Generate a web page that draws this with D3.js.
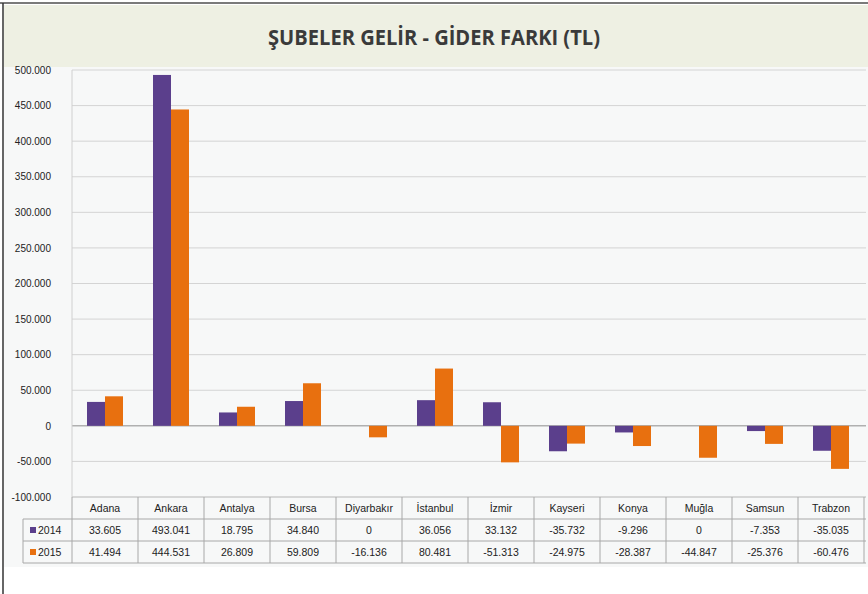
<!DOCTYPE html>
<html><head><meta charset="utf-8">
<script src="https://cdn.jsdelivr.net/npm/d3@7"></script>
<style>
html,body{margin:0;padding:0;background:#fff;}
svg{display:block;}
</style></head>
<body>
<svg id="c" width="868" height="594"></svg>
<script>
const categories = ["Adana","Ankara","Antalya","Bursa","Diyarbakır","İstanbul","İzmir","Kayseri","Konya","Muğla","Samsun","Trabzon"];
const values2014 = [33605, 493041, 18795, 34840, 0, 36056, 33132, -35732, -9296, 0, -7353, -35035];
const values2015 = [41494, 444531, 26809, 59809, -16136, 80481, -51313, -24975, -28387, -44847, -25376, -60476];
const seriesNames = ["2014","2015"];
const yTicks = [500000,450000,400000,350000,300000,250000,200000,150000,100000,50000,0,-50000,-100000];
const titleText = "ŞUBELER GELİR - GİDER FARKI (TL)";

(function(){
const colors = ["#5b3f8c","#e8700f"];
const fmt = v => v === 0 ? "0" : d3.format(",")(v).replace(/,/g, ".").replace("\u2212","-");

const svg = d3.select("#c");
const W = 868, H = 594;
const pLeft = 72, pRight = 864, pTop = 70, pBottom = 497;

// backgrounds
svg.append("rect").attr("x",0).attr("y",0).attr("width",W).attr("height",H).attr("fill","#ffffff");
svg.append("rect").attr("x",4).attr("y",5).attr("width",W-4).attr("height",62).attr("fill","#eef0e3");
svg.append("rect").attr("x",4).attr("y",67).attr("width",W-4).attr("height",500).attr("fill","#f7f8f8");
// outer borders
svg.append("line").attr("x1",0).attr("x2",W).attr("y1",3).attr("y2",3).attr("stroke","#7a7a7a").attr("stroke-width",2);
svg.append("line").attr("x1",3).attr("x2",3).attr("y1",3).attr("y2",H).attr("stroke","#333").attr("stroke-width",1.5);

// title
svg.append("text").attr("x",434).attr("y",45).attr("text-anchor","middle")
  .attr("font-family","'Open Sans',sans-serif").attr("font-weight","bold")
  .attr("font-size",21).attr("fill","#3a3a3a")
  .attr("textLength",332).attr("lengthAdjust","spacingAndGlyphs").text(titleText);

const y = d3.scaleLinear().domain([-100000,500000]).range([pBottom, pTop]);
const x = d3.scaleBand().domain(categories).range([pLeft, pRight]).padding(0);
const xs = d3.scaleBand().domain(seriesNames).range([x.bandwidth()/2-18, x.bandwidth()/2+18]).padding(0);

// gridlines
svg.append("g").selectAll("line").data(yTicks).join("line")
  .attr("x1",pLeft).attr("x2",W-2).attr("y1",d=>y(d)).attr("y2",d=>y(d))
  .attr("stroke", d => d===0 ? "#8c8c8c" : "#d4d4d4").attr("stroke-width",1);
svg.append("line").attr("x1",pLeft).attr("x2",pLeft).attr("y1",pTop).attr("y2",pBottom).attr("stroke","#d0d0d0");

// y axis labels
const yAxis = d3.axisLeft(y).tickValues(yTicks).tickFormat(fmt).tickSize(0).tickPadding(0);
const ga = svg.append("g").attr("transform",`translate(51,0)`).call(yAxis);
ga.select(".domain").remove();
ga.selectAll("text").attr("font-family","'Liberation Sans',sans-serif")
  .attr("font-size",10).attr("fill","#222");

// bars
const data = [values2014, values2015];
data.forEach((vals,si)=>{
  svg.append("g").selectAll("rect").data(vals.map((v,i)=>({c:categories[i],v}))).join("rect")
    .attr("x", d => x(d.c)+xs(seriesNames[si]))
    .attr("width", xs.bandwidth())
    .attr("y", d => y(Math.max(0,d.v)))
    .attr("height", d => Math.abs(y(d.v)-y(0)))
    .attr("fill", colors[si]);
});

// data table
const rowY = [pBottom, 519, 541, 563];
const tg = svg.append("g");
tg.append("line").attr("x1",pLeft).attr("x2",W-2).attr("y1",rowY[0]).attr("y2",rowY[0]).attr("stroke","#c8c8c8");
[1,2,3].forEach(i=>{
  tg.append("line").attr("x1",23).attr("x2",W-2).attr("y1",rowY[i]).attr("y2",rowY[i]).attr("stroke","#a8a8a8");
});
const vx = categories.map(c=>x(c)).concat([pRight]);
tg.selectAll("line.v").data(vx).join("line").attr("class","v")
  .attr("x1",d=>d).attr("x2",d=>d).attr("y1",rowY[0]).attr("y2",rowY[3]).attr("stroke","#a8a8a8");
tg.append("line").attr("x1",23).attr("x2",23).attr("y1",rowY[1]).attr("y2",rowY[3]).attr("stroke","#a8a8a8");

const tf = "'Liberation Sans',sans-serif";
tg.selectAll("text.cat").data(categories).join("text").attr("class","cat")
  .attr("x",c=>x(c)+x.bandwidth()/2).attr("y",rowY[0]+15).attr("text-anchor","middle")
  .attr("font-family",tf).attr("font-size",10.5).attr("fill","#222").text(c=>c);
data.forEach((vals,si)=>{
  const yy = rowY[si+1]+15;
  tg.selectAll("text.v"+si).data(vals).join("text").attr("class","v"+si)
    .attr("x",(v,i)=>x(categories[i])+x.bandwidth()/2).attr("y",yy).attr("text-anchor","middle")
    .attr("font-family",tf).attr("font-size",10.5).attr("fill","#222").text(v=>fmt(v));
  tg.append("rect").attr("x",30).attr("y",yy-7).attr("width",6).attr("height",6).attr("fill",colors[si]);
  tg.append("text").attr("x",38).attr("y",yy).attr("font-family",tf).attr("font-size",10.5).attr("fill","#222").text(seriesNames[si]);
});
})();
</script>
</body></html>
